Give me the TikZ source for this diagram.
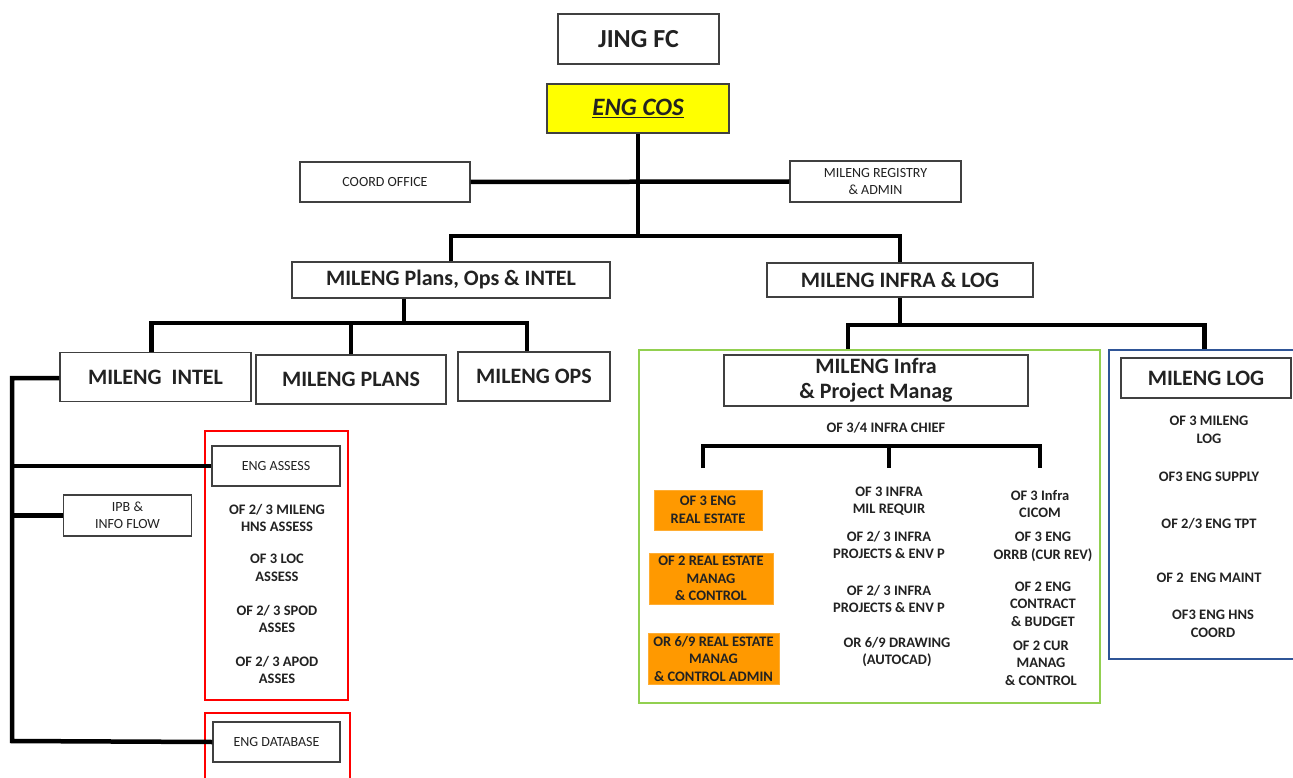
\documentclass[tikz,border=0pt]{standalone}
\usepackage{fontspec}
\setmainfont{Carlito}
\definecolor{boxgray}{HTML}{404040}
\definecolor{txt}{HTML}{222222}
\definecolor{engyellow}{HTML}{FFFF00}
\definecolor{engorange}{HTML}{FF9900}
\definecolor{enggreen}{HTML}{92D050}
\definecolor{engblue}{HTML}{2F5597}
\definecolor{engred}{HTML}{FF0000}
\tikzset{
  box/.style={draw=boxgray, line width=1.3pt, fill=white, inner sep=2pt, align=center, text=txt},
  bigtxt/.style={font=\fontsize{22}{25}\selectfont\bfseries},
  smalltxt/.style={font=\fontsize{14}{17}\selectfont},
  item/.style={font=\fontsize{14.5}{17.5}\selectfont\bfseries, align=center, text=txt, inner sep=1pt},
  orangebox/.style={fill=engorange, draw=engorange!80!white, line width=0.6pt, inner sep=1pt, align=center, text=txt, font=\fontsize{14.5}{17.5}\selectfont\bfseries},
  frame/.style={draw, inner sep=0pt, fill=none},
  conn/.style={line width=4.5pt, black},
  connthin/.style={line width=4pt, black}
}
\begin{document}
\begin{tikzpicture}[x=1pt, y=-1pt]
\useasboundingbox (0,0) rectangle (1293,778);
\fill[white] (0,0) rectangle (1293,778);

% frames
\node[frame, draw=enggreen, line width=2.2pt, minimum width=461, minimum height=353] (greenframe) at (869.5,526.5) {};
\node[frame, draw=engblue, line width=2.5pt, minimum width=191, minimum height=309] (blueframe) at (1204.5,504.5) {};
\node[frame, draw=engred, line width=2.2pt, minimum width=143, minimum height=269] (redA) at (276.5,565.5) {};
\node[frame, draw=engred, line width=2.2pt, minimum width=145, minimum height=87] (redB) at (277.5,756.5) {};

% top
\node[box, minimum width=161, minimum height=50, font=\fontsize{26}{30}\selectfont\bfseries] (jing) at (638.5,39) {JING FC};
\node[box, fill=engyellow, minimum width=182, minimum height=49, font=\fontsize{25}{30}\selectfont\bfseries\itshape] (engcos) at (638,108.5) {\underline{ENG COS}};
\node[box, smalltxt, minimum width=170, minimum height=40] (coord) at (385,182) {COORD OFFICE};
\node[box, smalltxt, minimum width=171, minimum height=41] (registry) at (875.5,181.5) {MILENG REGISTRY\\\& ADMIN};

% second level
\node[box, bigtxt, minimum width=318, minimum height=36] (plans) at (451,280) {MILENG Plans, Ops \& INTEL};
\node[box, bigtxt, minimum width=266, minimum height=34] (infralog) at (900,280) {MILENG INFRA \& LOG};

% third level left
\node[box, bigtxt, minimum width=191, minimum height=49] (intel) at (155.5,377) {MILENG\ \ INTEL};
\node[box, bigtxt, minimum width=190, minimum height=49] (plans2) at (351,379.5) {MILENG PLANS};
\node[box, bigtxt, minimum width=152, minimum height=49] (ops) at (534,376.5) {MILENG OPS};

% left branch
\node[box, smalltxt, minimum width=128, minimum height=41] (ipb) at (127.5,515.5) {IPB \&\\INFO FLOW};
\node[box, smalltxt, minimum width=128, minimum height=40] (assess) at (276,466) {ENG ASSESS};
\node[item] (a1) at (277,518) {OF 2/ 3 MILENG\\HNS ASSESS};
\node[item] (a2) at (277,568) {OF 3 LOC\\ASSESS};
\node[item] (a3) at (277,619) {OF 2/ 3 SPOD\\ASSES};
\node[item] (a4) at (277,670) {OF 2/ 3 APOD\\ASSES};
\node[box, smalltxt, minimum width=127, minimum height=40] (engdb) at (276.5,742) {ENG DATABASE};

% infra
\node[box, bigtxt, minimum width=304, minimum height=51] (infrapm) at (876,380.5) {MILENG Infra\\\& Project Manag};
\node[item] (chief) at (886,428) {OF 3/4 INFRA CHIEF};
\node[orangebox, minimum width=108, minimum height=40] (o1) at (708,510) {OF 3 ENG\\REAL ESTATE};
\node[orangebox, minimum width=124, minimum height=51] (o2) at (711,578.5) {OF 2 REAL ESTATE\\MANAG\\\& CONTROL};
\node[orangebox, minimum width=131, minimum height=51] (o3) at (713.5,658.5) {OR 6/9 REAL ESTATE\\MANAG\\\& CONTROL ADMIN};
\node[item] (m1) at (889,501) {OF 3 INFRA\\MIL REQUIR};
\node[item] (m2) at (889,545) {OF 2/ 3 INFRA\\PROJECTS \& ENV P};
\node[item] (m3) at (889,599) {OF 2/ 3 INFRA\\PROJECTS \& ENV P};
\node[item] (m4) at (897,652) {OR 6/9 DRAWING\\(AUTOCAD)};
\node[item] (r1) at (1040,504) {OF 3 Infra\\CICOM};
\node[item] (r2) at (1043,547) {OF 3 ENG\\ORRB (CUR REV)};
\node[item] (r3) at (1043,604) {OF 2 ENG\\CONTRACT\\\& BUDGET};
\node[item] (r4) at (1041,663) {OF 2 CUR\\MANAG\\\& CONTROL};

% log
\node[box, bigtxt, minimum width=170, minimum height=40] (logbox) at (1206,378) {MILENG LOG};
\node[item] (l1) at (1209,430) {OF 3 MILENG\\LOG};
\node[item] (l2) at (1209,477) {OF3 ENG SUPPLY};
\node[item] (l3) at (1209,524) {OF 2/3 ENG TPT};
\node[item] (l4) at (1209,578) {OF 2\ \ ENG MAINT};
\node[item] (l5) at (1213,624) {OF3 ENG HNS\\COORD};

% coordinates
\coordinate (j1) at (638,236);
\coordinate (p1) at (404,323);
\coordinate (q1) at (900,325);
\coordinate (sptop) at (12,378);
\coordinate (spbot) at (12,741);
\coordinate (da) at (703,468);
\coordinate (db) at (889,468);
\coordinate (dc) at (1040,468);
\coordinate (ba) at (703,446);
\coordinate (bb) at (889,446);
\coordinate (bc) at (1040,446);

% connectors
\draw[conn] (coord.east) -- (registry.west);
\draw[conn] (engcos.south) -- (j1);
\draw[conn] (plans.north) |- (j1) -| (infralog.north);
\draw[conn] (plans.south -| p1) -- (p1);
\draw[conn] ([xshift=-4pt]intel.north) |- (p1) -| ([xshift=-7pt]ops.north);
\draw[conn] (plans2.north) -- (plans2.north |- p1);
\draw[conn] (intel.west |- sptop) -- (sptop) -- (spbot) -- (engdb.west);
\draw[conn] (sptop |- assess.west) -- (assess.west);
\draw[conn] (sptop |- ipb.west) -- (ipb.west);
\draw[conn] (infralog.south) -- (q1);
\draw[conn] ([xshift=-21.5pt]greenframe.north) |- (q1) -| (blueframe.north);
\draw[connthin] (da) -- (ba) -- (bc) -- (dc);
\draw[connthin] (bb) -- (db);
\end{tikzpicture}
\end{document}
